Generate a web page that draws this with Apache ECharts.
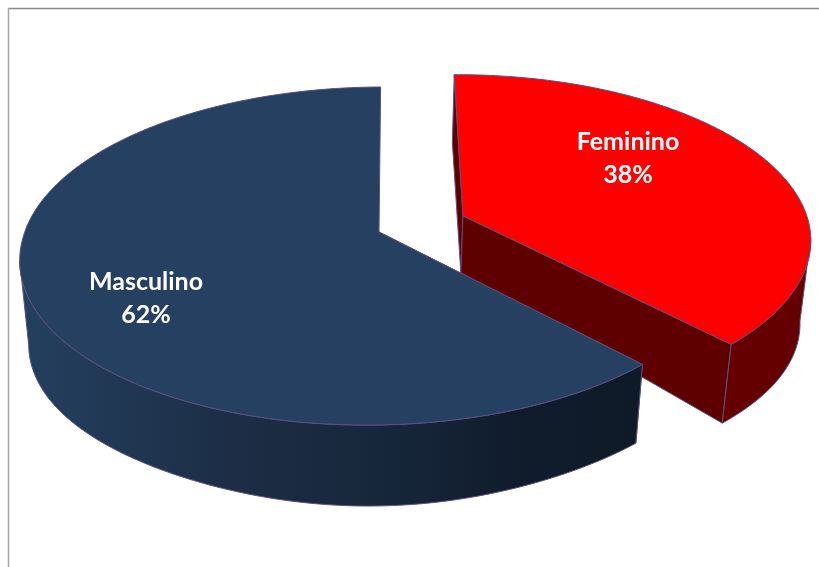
<!DOCTYPE html>
<html>
<head>
<meta charset="utf-8">
<style>html,body{margin:0;padding:0;background:#fff}#c{width:819px;height:567px}</style>
<script src="https://cdn.jsdelivr.net/npm/echarts@6/dist/echarts.min.js"></script>
</head>
<body>
<div id="c"></div>
<script>
var categories = ['Feminino', 'Masculino'];
var values = [38, 62];
var explode = [0.26, 0];
var topColors = ['#ff0000', '#254061'];
var wallStops = [
  [[0, '#640000'], [1, '#640000']],
  [[0, '#24405f'], [0.35, '#1c2d45'], [0.6, '#16263a'], [0.8, '#101c2c'], [1, '#0f1a28']]
];
var cutColors = ['#5e0000', '#101a28'];
var labelAnchors = [[628, 158], [146, 298]];

var cx = 379, cy = 232, a = 352, b = 165.6, k = 0.142, m = 0.009, shear = 3, tilt = 3, rot = 0.3;
var bottomScale = 0.975, backDepth = 68, apexDepth = 57;
var edge = '#5b5080';

function proj(u, v) {
  var s = 1 / (1 - k * v + m * u);
  return [cx + a * u * s - shear * Math.max(v, 0), cy + b * v * s - tilt * u];
}
function lower(p, d) {
  return [cx + (p[0] - cx) * bottomScale, p[1] + d];
}
function rimD(t) {
  var u = Math.sin(t), v = -Math.cos(t);
  return v < 0 ? backDepth : 73 + 11 * u * u + 8 * Math.pow(v, 8);
}

var total = values.reduce(function (x, y) { return x + y; }, 0);
var startFractions = values.map(function (_, i) {
  return values.slice(0, i).reduce(function (x, y) { return x + y; }, 0) / total;
});

function renderItem(params, api) {
  var i = api.value(0), val = api.value(1), ex = api.value(2);
  var t0 = (startFractions[i] * 360 + rot) * Math.PI / 180;
  var t1 = t0 + val / total * 2 * Math.PI;
  var mid = (t0 + t1) / 2;
  var du = Math.sin(mid) * ex, dv = -Math.cos(mid) * ex;
  var n = 160, rim = [], visible = [];
  for (var j = 0; j <= n; j++) {
    var t = t0 + (t1 - t0) * j / n;
    var u = Math.sin(t) + du, v = -Math.cos(t) + dv;
    var p = proj(u, v);
    rim.push(p);
    if (-Math.cos(t) >= k) visible.push(lower(p, 0).concat([p[0], p[1], rimD(t)]));
  }
  var apex = proj(du, dv);
  var apexB = lower(apex, apexDepth);
  var first = rim[0], last = rim[n];
  var firstB = lower(first, rimD(t0));
  var lastB = lower(last, rimD(t1));

  var wall = visible.map(function (q) { return [q[2], q[3]]; })
    .concat(visible.slice().reverse().map(function (q) { return [q[0], q[1] + q[4]]; }));

  var children = [];
  var wallFill = new echarts.graphic.LinearGradient(0, 0, 1, 0,
    wallStops[i].map(function (s) { return { offset: s[0], color: s[1] }; }));
  var strokeStyle = { stroke: edge, lineWidth: 1, lineJoin: 'round' };

  // far radial wall, near radial wall, rim wall, then top face
  children.push({ type: 'polygon', shape: { points: [first, apex, apexB, firstB] },
    style: Object.assign({ fill: cutColors[i] }, strokeStyle) });
  if (i === 0) {
    children.push({ type: 'polygon', shape: { points: [apex, last, lastB, apexB] },
      style: Object.assign({ fill: cutColors[i] }, strokeStyle) });
  }
  children.push({ type: 'polygon', shape: { points: wall },
    style: Object.assign({ fill: wallFill }, strokeStyle) });
  children.push({ type: 'polygon', shape: { points: rim.concat([apex]) },
    style: Object.assign({ fill: topColors[i] }, strokeStyle) });
  children.push({ type: 'text', x: labelAnchors[i][0], y: labelAnchors[i][1],
    style: { text: categories[i] + '\n' + val + '%', fill: '#fff',
      font: 'bold 25px Lato, "Open Sans", sans-serif', lineHeight: 33,
      align: 'center', verticalAlign: 'middle' } });
  return { type: 'group', children: children };
}

var chart = echarts.init(document.getElementById('c'), null, { renderer: 'canvas' });
chart.setOption({
  animation: false,
  backgroundColor: '#ffffff',
  graphic: [
    { type: 'line', shape: { x1: 8, y1: 8.5, x2: 819, y2: 8.5 }, style: { stroke: '#8c8c8c', lineWidth: 1.5 } },
    { type: 'line', shape: { x1: 8.5, y1: 8, x2: 8.5, y2: 567 }, style: { stroke: '#a6a6a6', lineWidth: 1.5 } }
  ],
  series: [{
    type: 'custom',
    coordinateSystem: 'none',
    renderItem: renderItem,
    encode: { tooltip: [1], itemName: 3 },
    data: categories.map(function (c, i) { return [i, values[i], explode[i], c]; })
  }]
});
</script>
</body>
</html>
